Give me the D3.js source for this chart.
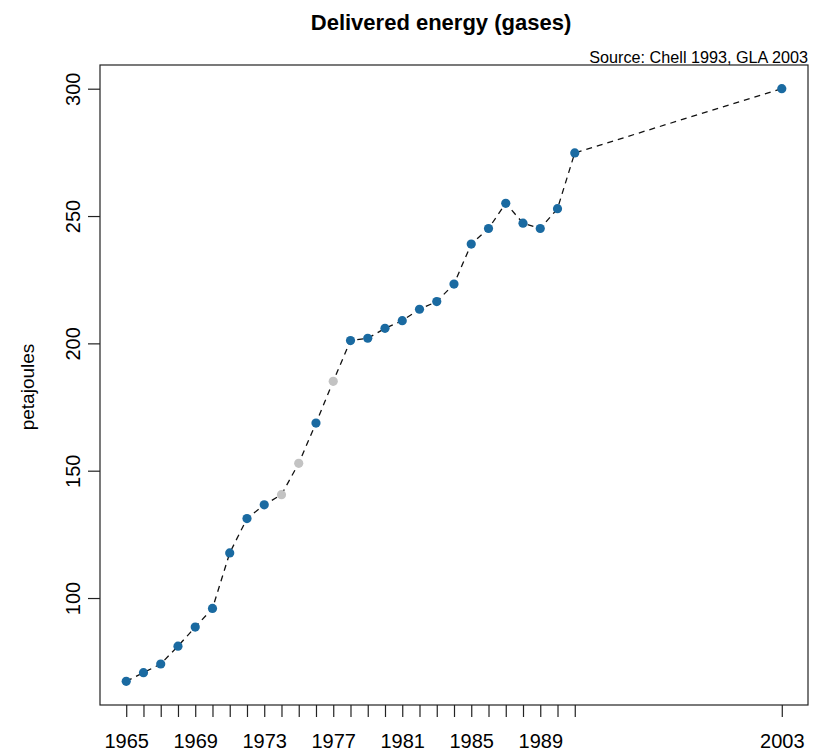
<!DOCTYPE html>
<html>
<head>
<meta charset="utf-8">
<script src="https://cdn.jsdelivr.net/npm/d3@7"></script>
<style>
  html, body { margin: 0; padding: 0; background: #fff; }
  svg { display: block; font-family: "Liberation Sans", Arial, Helvetica, sans-serif; }
</style>
</head>
<body>
<svg id="chart" width="820" height="755"></svg>
<script>
// Delivered energy from gases, petajoules per year
const years = [1965, 1966, 1967, 1968, 1969, 1970, 1971, 1972, 1973, 1974, 1975, 1976, 1977,
               1978, 1979, 1980, 1981, 1982, 1983, 1984, 1985, 1986, 1987, 1988, 1989, 1990,
               1991, 2003];
const petajoules = [67.3, 70.7, 74.1, 81.1, 88.6, 95.9, 117.7, 131.2, 136.6, 140.6, 152.9, 168.7, 185.1,
                    201.1, 202.0, 205.9, 208.9, 213.4, 216.4, 223.3, 239.0, 245.1, 255.0, 247.2, 245.1, 252.9,
                    274.8, 300.0];
// estimated years are drawn in grey
const estimated = [1974, 1975, 1977];
const yTicks = [100, 150, 200, 250, 300];
const xLabelYears = [1965, 1969, 1973, 1977, 1981, 1985, 1989, 2003];
const xTickYears = d3.range(1965, 1992).concat([2003]);

const titleText = "Delivered energy (gases)";
const sourceText = "Source: Chell 1993, GLA 2003";
const yLabel = "petajoules";

const svg = d3.select("#chart");
const plot = { left: 100, right: 808, top: 65, bottom: 705 };

// R-style 4% padding around the data range
const xExt = d3.extent(years), yExt = d3.extent(petajoules);
const xPad = (xExt[1] - xExt[0]) * 0.04, yPad = (yExt[1] - yExt[0]) * 0.04;
const x = d3.scaleLinear().domain([xExt[0] - xPad, xExt[1] + xPad]).range([plot.left, plot.right]);
const y = d3.scaleLinear().domain([yExt[0] - yPad, yExt[1] + yPad]).range([plot.bottom, plot.top]);

// frame
svg.append("rect")
  .attr("x", plot.left).attr("y", plot.top)
  .attr("width", plot.right - plot.left).attr("height", plot.bottom - plot.top)
  .attr("fill", "none").attr("stroke", "#222").attr("stroke-width", 1.2);

// x axis: a tick each year, labels every fourth year and 2003
const xAxis = d3.axisBottom(x)
  .tickValues(xTickYears)
  .tickSize(12)
  .tickPadding(17)
  .tickFormat(d => xLabelYears.includes(d) ? String(d) : "");
const gx = svg.append("g").attr("transform", `translate(0,${plot.bottom})`).call(xAxis);
gx.select(".domain").remove();
gx.selectAll("line").attr("stroke", "#222").attr("stroke-width", 1.2);
gx.selectAll("text").attr("font-size", 20).attr("fill", "#000")
  .attr("font-family", "Liberation Sans, Arial, sans-serif");

// y axis with rotated labels
const yAxis = d3.axisLeft(y).tickValues(yTicks).tickSize(12).tickFormat(d3.format("d"));
const gy = svg.append("g").attr("transform", `translate(${plot.left},0)`).call(yAxis);
gy.select(".domain").remove();
gy.selectAll("line").attr("stroke", "#222").attr("stroke-width", 1.2);
gy.selectAll("text")
  .attr("font-size", 20).attr("fill", "#000")
  .attr("font-family", "Liberation Sans, Arial, sans-serif")
  .attr("x", null).attr("dy", null)
  .attr("text-anchor", "middle")
  .attr("transform", "translate(-20,0) rotate(-90)");

// dashed connecting line
const line = d3.line().x((d, i) => x(years[i])).y(d => y(d));
svg.append("path")
  .datum(petajoules)
  .attr("d", line)
  .attr("fill", "none")
  .attr("stroke", "#111")
  .attr("stroke-width", 1.3)
  .attr("stroke-dasharray", "6,5");

// points
svg.append("g").selectAll("circle")
  .data(years)
  .join("circle")
  .attr("cx", d => x(d))
  .attr("cy", (d, i) => y(petajoules[i]))
  .attr("r", 4.6)
  .attr("fill", d => estimated.includes(d) ? "#c3c3c3" : "#1a6aa1");

// title and source note
svg.append("text")
  .attr("x", 441).attr("y", 30)
  .attr("text-anchor", "middle")
  .attr("font-size", 22).attr("font-weight", "bold")
  .text(titleText);

svg.append("text")
  .attr("x", plot.right).attr("y", 63)
  .attr("text-anchor", "end")
  .attr("font-size", 16.2)
  .text(sourceText);

svg.append("text")
  .attr("transform", `translate(34,${(plot.top + plot.bottom) / 2 + 2}) rotate(-90)`)
  .attr("text-anchor", "middle")
  .attr("font-size", 19)
  .text(yLabel);
</script>
</body>
</html>
